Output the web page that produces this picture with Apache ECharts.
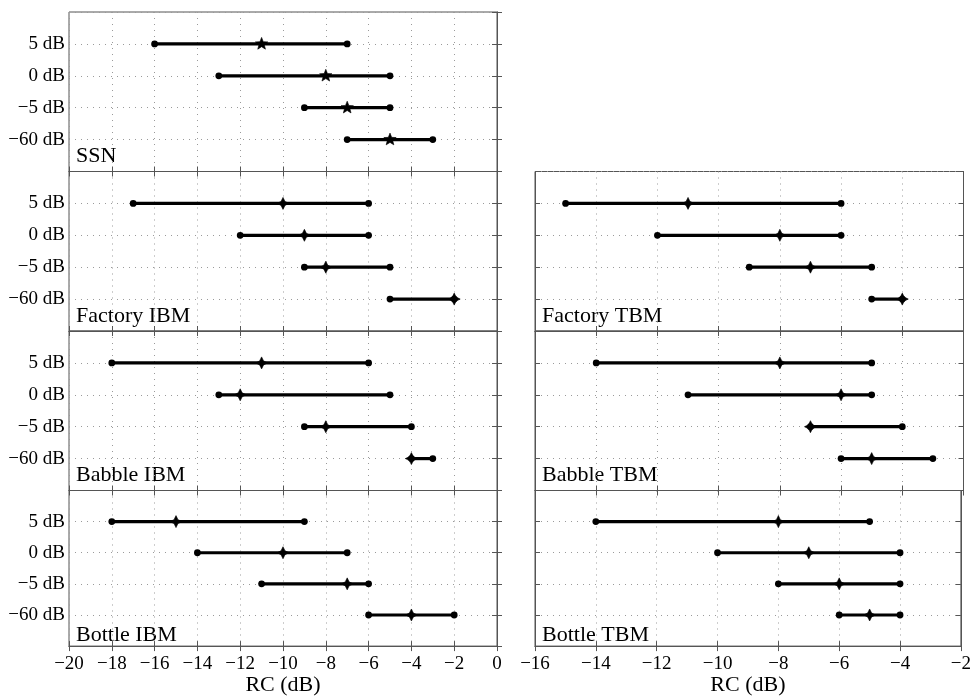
<!DOCTYPE html>
<html>
<head>
<meta charset="utf-8">
<script src="https://cdn.jsdelivr.net/npm/echarts@6/dist/echarts.min.js"></script>
<style>
html,body{margin:0;padding:0;background:#fff;}
#chart{width:974px;height:697px;}
</style>
</head>
<body>
<div id="chart"></div>
<script>
// Row labels (top to bottom)
const snrLabels = ['5 dB', '0 dB', '\u22125 dB', '\u221260 dB'];
const xTitle = 'RC (dB)';

// Panel names
const panelNames = ['SSN', 'Factory IBM', 'Babble IBM', 'Bottle IBM', 'Factory TBM', 'Babble TBM', 'Bottle TBM'];

// Values per row (5 dB, 0 dB, -5 dB, -60 dB): low end, marker, high end
const ssnLow  = [-16, -13, -9, -7];
const ssnMid  = [-11, -8, -7, -5];
const ssnHigh = [-7, -5, -5, -3];

const factoryIbmLow  = [-17, -12, -9, -5];
const factoryIbmMid  = [-10, -9, -8, -2];
const factoryIbmHigh = [-6, -6, -5, -2];

const babbleIbmLow  = [-18, -13, -9, -4];
const babbleIbmMid  = [-11, -12, -8, -4];
const babbleIbmHigh = [-6, -5, -4, -3];

const bottleIbmLow  = [-18, -14, -11, -6];
const bottleIbmMid  = [-15, -10, -7, -4];
const bottleIbmHigh = [-9, -7, -6, -2];

const factoryTbmLow  = [-15, -12, -9, -5];
const factoryTbmMid  = [-11, -8, -7, -4];
const factoryTbmHigh = [-6, -6, -5, -4];

const babbleTbmLow  = [-14, -11, -7, -6];
const babbleTbmMid  = [-8, -6, -7, -5];
const babbleTbmHigh = [-5, -5, -4, -3];

const bottleTbmLow  = [-14, -10, -8, -6];
const bottleTbmMid  = [-8, -7, -6, -5];
const bottleTbmHigh = [-5, -4, -4, -4];

// Axis ranges
const ibmRange = [-20, 0];
const tbmRange = [-16, -2];

const panels = [
  {name: panelNames[0], low: ssnLow, mid: ssnMid, high: ssnHigh, col: 0, row: 0, star: true},
  {name: panelNames[1], low: factoryIbmLow, mid: factoryIbmMid, high: factoryIbmHigh, col: 0, row: 1},
  {name: panelNames[2], low: babbleIbmLow, mid: babbleIbmMid, high: babbleIbmHigh, col: 0, row: 2},
  {name: panelNames[3], low: bottleIbmLow, mid: bottleIbmMid, high: bottleIbmHigh, col: 0, row: 3},
  {name: panelNames[4], low: factoryTbmLow, mid: factoryTbmMid, high: factoryTbmHigh, col: 1, row: 1},
  {name: panelNames[5], low: babbleTbmLow, mid: babbleTbmMid, high: babbleTbmHigh, col: 1, row: 2},
  {name: panelNames[6], low: bottleTbmLow, mid: bottleTbmMid, high: bottleTbmHigh, col: 1, row: 3}
];

const FONT = '"Liberation Serif", "Times New Roman", serif';
const colLeft = [69, 535];
const colWidth = [428, 428.5];
const rowTop0 = 12, rowH = 159.5;
const borderColor = '#555';

const grids = [], xAxes = [], yAxes = [], series = [], graphics = [];

function starPoints(cx, cy, n, ro, ri) {
  const pts = [];
  for (let k = 0; k < 2 * n; k++) {
    const r = k % 2 === 0 ? ro : ri;
    const a = -Math.PI / 2 + k * Math.PI / n;
    pts.push([cx + r * Math.cos(a), cy + r * Math.sin(a)]);
  }
  return pts;
}

panels.forEach((p, i) => {
  const top = rowTop0 + p.row * rowH;
  const left = colLeft[p.col];
  const width = colWidth[p.col];
  const range = p.col === 0 ? ibmRange : tbmRange;
  const isBottom = p.row === 3;
  grids.push({left: left, top: top, width: width, height: rowH, show: true, borderColor: borderColor, borderWidth: 1, backgroundColor: 'transparent'});

  // bottom x axis
  xAxes.push({
    type: 'value', gridIndex: i, min: range[0], max: range[1], interval: 2, position: 'bottom',
    axisLine: {show: true, lineStyle: {color: borderColor}},
    axisTick: {show: true, inside: true, length: 5, lineStyle: {color: borderColor}},
    axisLabel: {show: isBottom, fontFamily: FONT, fontSize: 19, color: '#000', margin: 8,
      formatter: v => (v < 0 ? '\u2212' + Math.abs(v) : String(v))},
    splitLine: {show: true, lineStyle: {color: '#9a9a9a', type: [1, 5], width: 1}},
    name: isBottom ? xTitle : '', nameLocation: 'middle', nameGap: 25,
    nameTextStyle: {fontFamily: FONT, fontSize: 22, color: '#000'}
  });
  // top x axis (ticks only)
  xAxes.push({
    type: 'value', gridIndex: i, min: range[0], max: range[1], interval: 2, position: 'top',
    axisLine: {show: true, lineStyle: {color: borderColor}},
    axisTick: {show: true, inside: true, length: 5, lineStyle: {color: borderColor}},
    axisLabel: {show: false}, splitLine: {show: false}
  });
  // left y axis
  yAxes.push({
    type: 'value', gridIndex: i, min: 0, max: 5, interval: 1, position: 'left',
    axisLine: {show: true, lineStyle: {color: borderColor}},
    axisTick: {show: true, inside: true, length: 5, lineStyle: {color: borderColor}},
    axisLabel: {show: p.col === 0, fontFamily: FONT, fontSize: 19, color: '#000', margin: 4,
      formatter: v => (v >= 1 && v <= 4 ? snrLabels[4 - v] : '')},
    splitLine: {show: true, lineStyle: {color: '#9a9a9a', type: [1, 5], width: 1}}
  });
  // right y axis (ticks only)
  yAxes.push({
    type: 'value', gridIndex: i, min: 0, max: 5, interval: 1, position: 'right',
    axisLine: {show: true, lineStyle: {color: borderColor}},
    axisTick: {show: true, inside: true, length: 5, lineStyle: {color: borderColor}},
    axisLabel: {show: false}, splitLine: {show: false}
  });

  const data = p.low.map((lo, k) => [lo, p.mid[k], p.high[k], 4 - k]);
  const star = !!p.star;
  series.push({
    type: 'custom', xAxisIndex: 2 * i, yAxisIndex: 2 * i, data: data, clip: false,
    renderItem: function (params, api) {
      const y = api.value(3);
      const a = api.coord([api.value(0), y]);
      const m = api.coord([api.value(1), y]);
      const b = api.coord([api.value(2), y]);
      const marker = star
        ? {type: 'polygon', shape: {points: starPoints(m[0], m[1], 5, 6.5, 2.8)}, style: {fill: '#000', stroke: '#000', lineWidth: 0.6}}
        : {type: 'polygon', shape: {points: starPoints(m[0], m[1], 4, 6, 2.8)}, style: {fill: '#000', stroke: '#000', lineWidth: 0.6}};
      return {
        type: 'group',
        children: [
          {type: 'line', shape: {x1: a[0], y1: a[1], x2: b[0], y2: b[1]}, style: {stroke: '#000', lineWidth: 3.2}},
          {type: 'circle', shape: {cx: a[0], cy: a[1], r: 3.4}, style: {fill: '#000'}},
          {type: 'circle', shape: {cx: b[0], cy: b[1], r: 3.4}, style: {fill: '#000'}},
          marker
        ]
      };
    }
  });

  graphics.push({
    type: 'text', left: left + 7, top: top + rowH - 26,
    style: {text: p.name, font: '22px ' + FONT, fill: '#000'}
  });
});

const chart = echarts.init(document.getElementById('chart'), null, {renderer: 'canvas'});
chart.setOption({
  animation: false,
  backgroundColor: '#fff',
  grid: grids,
  xAxis: xAxes,
  yAxis: yAxes,
  series: series,
  graphic: graphics
});
</script>
</body>
</html>
